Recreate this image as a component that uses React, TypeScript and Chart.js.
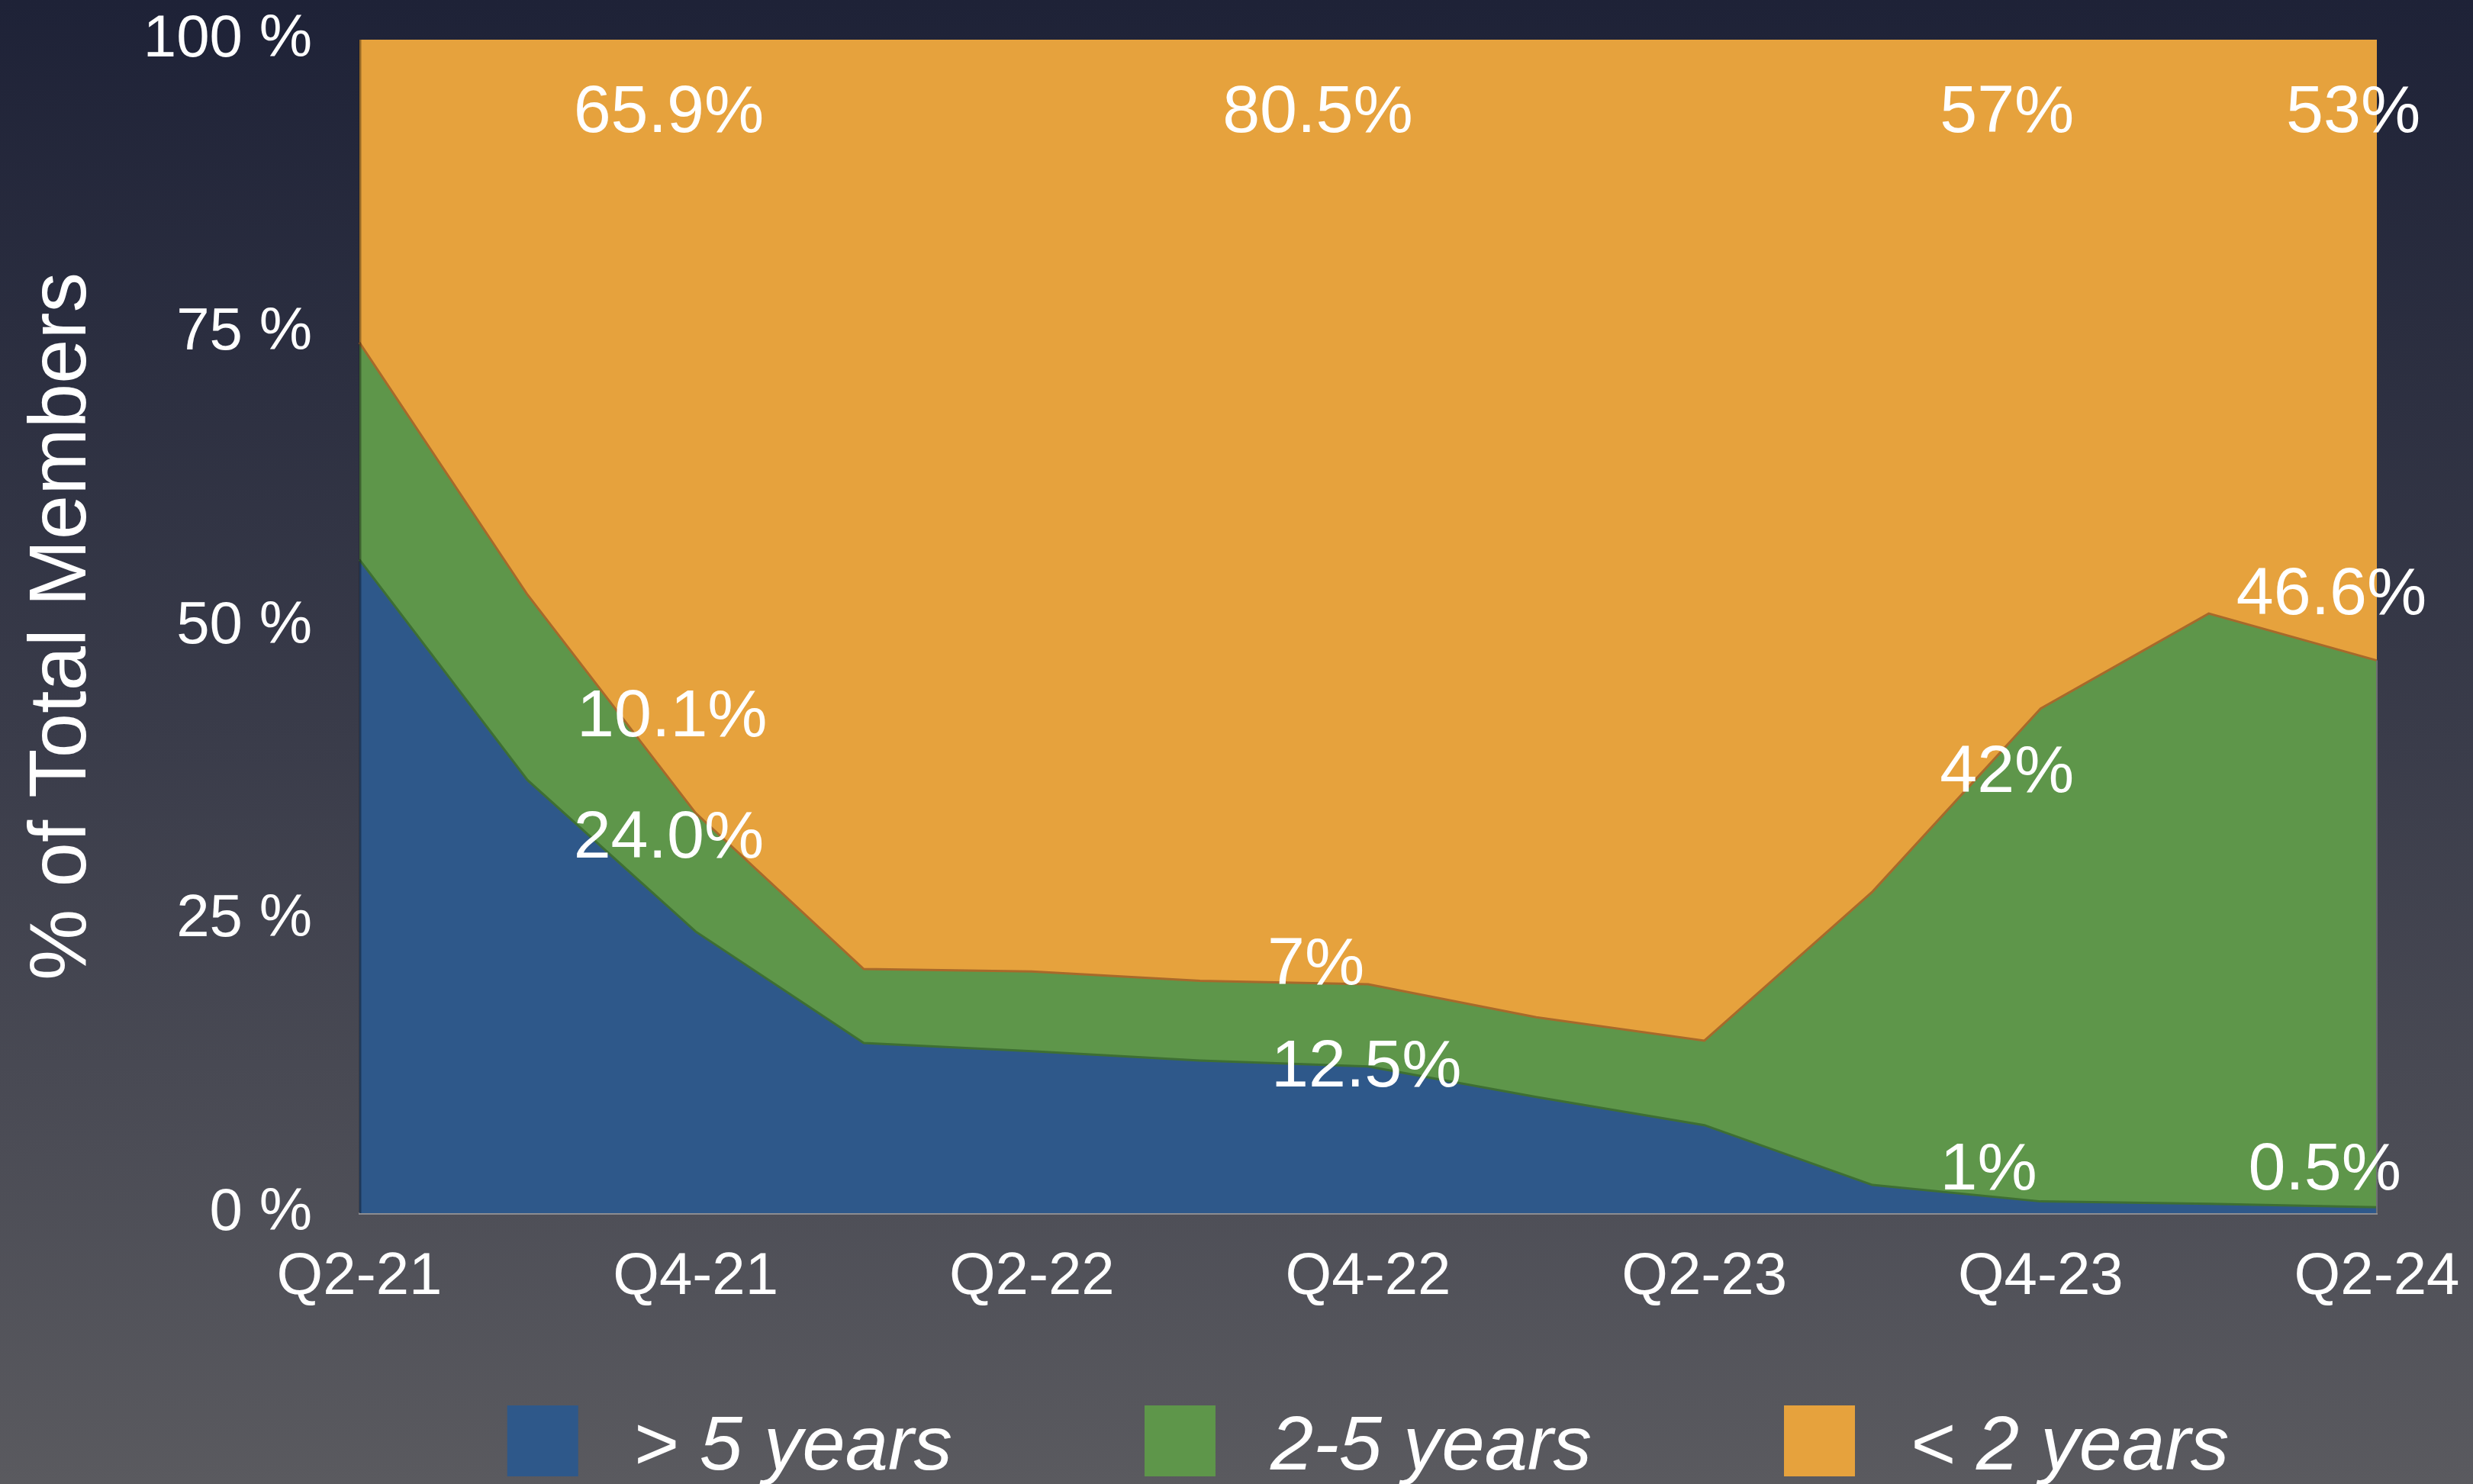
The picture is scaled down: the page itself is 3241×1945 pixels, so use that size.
import React, { useEffect, useRef } from 'react';
import { Chart, registerables } from 'chart.js';

Chart.register(...registerables);

// ---- data ----
const quarters = ['Q2-21', 'Q3-21', 'Q4-21', 'Q1-22', 'Q2-22', 'Q3-22', 'Q4-22', 'Q1-23', 'Q2-23', 'Q3-23', 'Q4-23', 'Q1-24', 'Q2-24'];
const over5Years = [55.7, 36.9, 24.0, 14.5, 13.8, 13.0, 12.5, 9.9, 7.5, 2.4, 1.0, 0.8, 0.5];
const twoToFiveYears = [18.5, 15.8, 10.1, 6.3, 6.8, 6.8, 7.0, 6.8, 7.2, 25.0, 42.0, 50.3, 46.6];
const under2Years = [25.8, 47.3, 65.9, 79.2, 79.4, 80.2, 80.5, 83.3, 85.3, 72.6, 57.0, 48.9, 52.9];
const seriesNames = ['> 5 years', '2-5 years', '< 2 years'];
const yTickValues = [0, 25, 50, 75, 100];
const yAxisTitle = '% of Total Members';

// value annotations (text, category position, value position)
const annTexts = ['65.9%', '80.5%', '57%', '53%', '10.1%', '24.0%', '7%', '12.5%', '42%', '1%', '46.6%', '0.5%'];
const annCat = [1.84, 5.70, 9.80, 11.86, 1.86, 1.84, 5.69, 5.99, 9.80, 9.69, 11.73, 11.69];
const annVal = [93.7, 93.7, 93.7, 93.7, 42.2, 31.9, 21.1, 12.4, 37.5, 3.6, 52.6, 3.6];

const COLORS = ['#2e588a', '#5e964a', '#e6a23d'];
const EDGE = ['#3e6f33', '#a8692a', 'rgba(0,0,0,0)'];
const FONT = '"Liberation Sans", Arial, Helvetica, sans-serif';

const annotationPlugin = {
  id: 'annotations',
  afterDatasetsDraw(chart: any) {
    const { ctx, scales } = chart;
    ctx.save();
    ctx.fillStyle = '#ffffff';
    ctx.font = `88px ${FONT}`;
    ctx.textAlign = 'center';
    ctx.textBaseline = 'middle';
    annTexts.forEach((t, i) => {
      const x = scales.x.getPixelForValue(annCat[i]);
      const y = scales.y.getPixelForValue(annVal[i]);
      ctx.fillText(t, x, y);
    });
    ctx.restore();
  },
};

const framePlugin = {
  id: 'frame',
  afterDatasetsDraw(chart: any) {
    const { ctx, chartArea, scales } = chart;
    const last = quarters.length - 1;
    ctx.save();
    ctx.strokeStyle = 'rgba(0,0,0,0.35)';
    ctx.lineWidth = 3;
    ctx.beginPath();
    ctx.moveTo(chartArea.left + 1, chartArea.top);
    ctx.lineTo(chartArea.left + 1, chartArea.bottom);
    ctx.stroke();
    ctx.strokeStyle = '#6f7074';
    ctx.lineWidth = 2;
    ctx.beginPath();
    ctx.moveTo(chartArea.right, scales.y.getPixelForValue(over5Years[last] + twoToFiveYears[last]));
    ctx.lineTo(chartArea.right, chartArea.bottom);
    ctx.stroke();
    ctx.restore();
  },
};

const legendPlugin = {
  id: 'customLegend',
  afterDraw(chart: any) {
    const { ctx, chartArea } = chart;
    const box = 93;
    const gapText = 72;
    const gapItem = 252;
    ctx.save();
    ctx.font = `italic 101px ${FONT}`;
    const ds = chart.data.datasets;
    const widths = ds.map((d: any) => ctx.measureText(d.label).width);
    const total = widths.reduce((a: number, w: number) => a + box + gapText + w, 0) + gapItem * (ds.length - 1);
    let x = (chartArea.left + chartArea.right) / 2 - total / 2;
    const top = chartArea.bottom + 252;
    ds.forEach((d: any, i: number) => {
      ctx.fillStyle = d.backgroundColor;
      ctx.fillRect(x, top, box, box);
      ctx.fillStyle = '#ffffff';
      ctx.textAlign = 'left';
      ctx.textBaseline = 'alphabetic';
      ctx.fillText(d.label, x + box + gapText, top + 84);
      x += box + gapText + widths[i] + gapItem;
    });
    ctx.restore();
  },
};

export default function App() {
  const ref = useRef<HTMLCanvasElement>(null);

  useEffect(() => {
    if (!ref.current) return;
    const series = [over5Years, twoToFiveYears, under2Years];
    const chart = new Chart(ref.current, {
      type: 'line',
      data: {
        labels: quarters,
        datasets: series.map((s, i) => ({
          label: seriesNames[i],
          data: s,
          backgroundColor: COLORS[i],
          borderColor: EDGE[i],
          borderWidth: i === 2 ? 0 : 3,
          fill: i === 0 ? 'origin' : '-1',
          pointRadius: 0,
          tension: 0,
        })),
      },
      options: {
        animation: false,
        responsive: false,
        devicePixelRatio: 1,
        layout: { padding: { top: 52, right: 126, bottom: 155, left: 0 } },
        plugins: {
          legend: { display: false },
          tooltip: { enabled: false },
        },
        scales: {
          x: {
            grid: { display: false },
            border: { display: true, color: '#8c8c90', width: 3 },
            ticks: {
              color: '#ffffff',
              font: { family: FONT, size: 78 },
              padding: 30,
              autoSkip: false,
              maxRotation: 0,
              minRotation: 0,
              callback: (_v: any, i: number) => (i % 2 === 0 ? quarters[i] : ''),
            },
            afterFit: (s: any) => {
              s.height = 200;
              s.paddingLeft = 0;
              s.paddingRight = 0;
            },
          },
          y: {
            stacked: true,
            min: 0,
            max: 100,
            grid: { display: false },
            border: { display: false },
            afterBuildTicks: (s: any) => {
              s.ticks = yTickValues.map((v) => ({ value: v }));
            },
            ticks: {
              color: '#ffffff',
              font: { family: FONT, size: 78 },
              padding: 54,
              callback: (v: any) => `${v} %`,
            },
            title: {
              display: true,
              text: yAxisTitle,
              color: '#ffffff',
              font: { family: FONT, size: 105 },
              padding: { top: 20, bottom: 0 },
            },
            afterFit: (s: any) => {
              s.width = 471;
              s.paddingTop = 0;
              s.paddingBottom = 0;
            },
          },
        },
      },
      plugins: [framePlugin, annotationPlugin, legendPlugin],
    });
    return () => chart.destroy();
  }, []);

  return (
    <div
      style={{
        position: 'fixed',
        left: 0,
        top: 0,
        width: 3241,
        height: 1945,
        background: 'linear-gradient(180deg, #1e2237 0%, #3a3c4a 50%, #5a5a5f 100%)',
      }}
    >
      <canvas ref={ref} width={3241} height={1945} style={{ display: 'block' }} />
    </div>
  );
}
